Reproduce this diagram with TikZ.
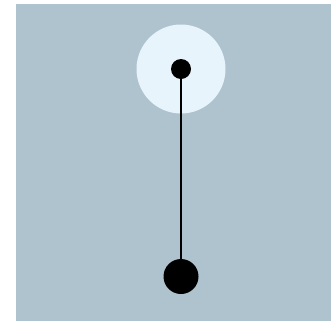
\documentclass[tikz,border=0pt]{standalone}
\usepackage{tikz}
\usetikzlibrary{positioning,calc}
\definecolor{bgblue}{RGB}{175,195,207}
\definecolor{haloblue}{RGB}{232,244,252}

\begin{document}
\begin{tikzpicture}[x=1pt, y=-1pt, thick,
        halo/.style={circle, fill=haloblue, minimum size=89pt, inner sep=0pt},
        pivot/.style={circle, fill=black, minimum size=20pt, inner sep=0pt},
        bob/.style={circle, fill=black, minimum size=35pt, inner sep=0pt},
        rod/.style={draw=black, line width=2.6pt}]

        \useasboundingbox (0,0) rectangle (331,322);
        \fill [bgblue] (16,4) rectangle (331,321);

        \node [halo] (glow) at (181,69) {};
        \node [pivot] (pin) at (181,69) {};
        \node [bob] (mass) at (181,276.5) {};

        \draw [rod] (pin) -- (mass);
    \end{tikzpicture}
\end{document}
